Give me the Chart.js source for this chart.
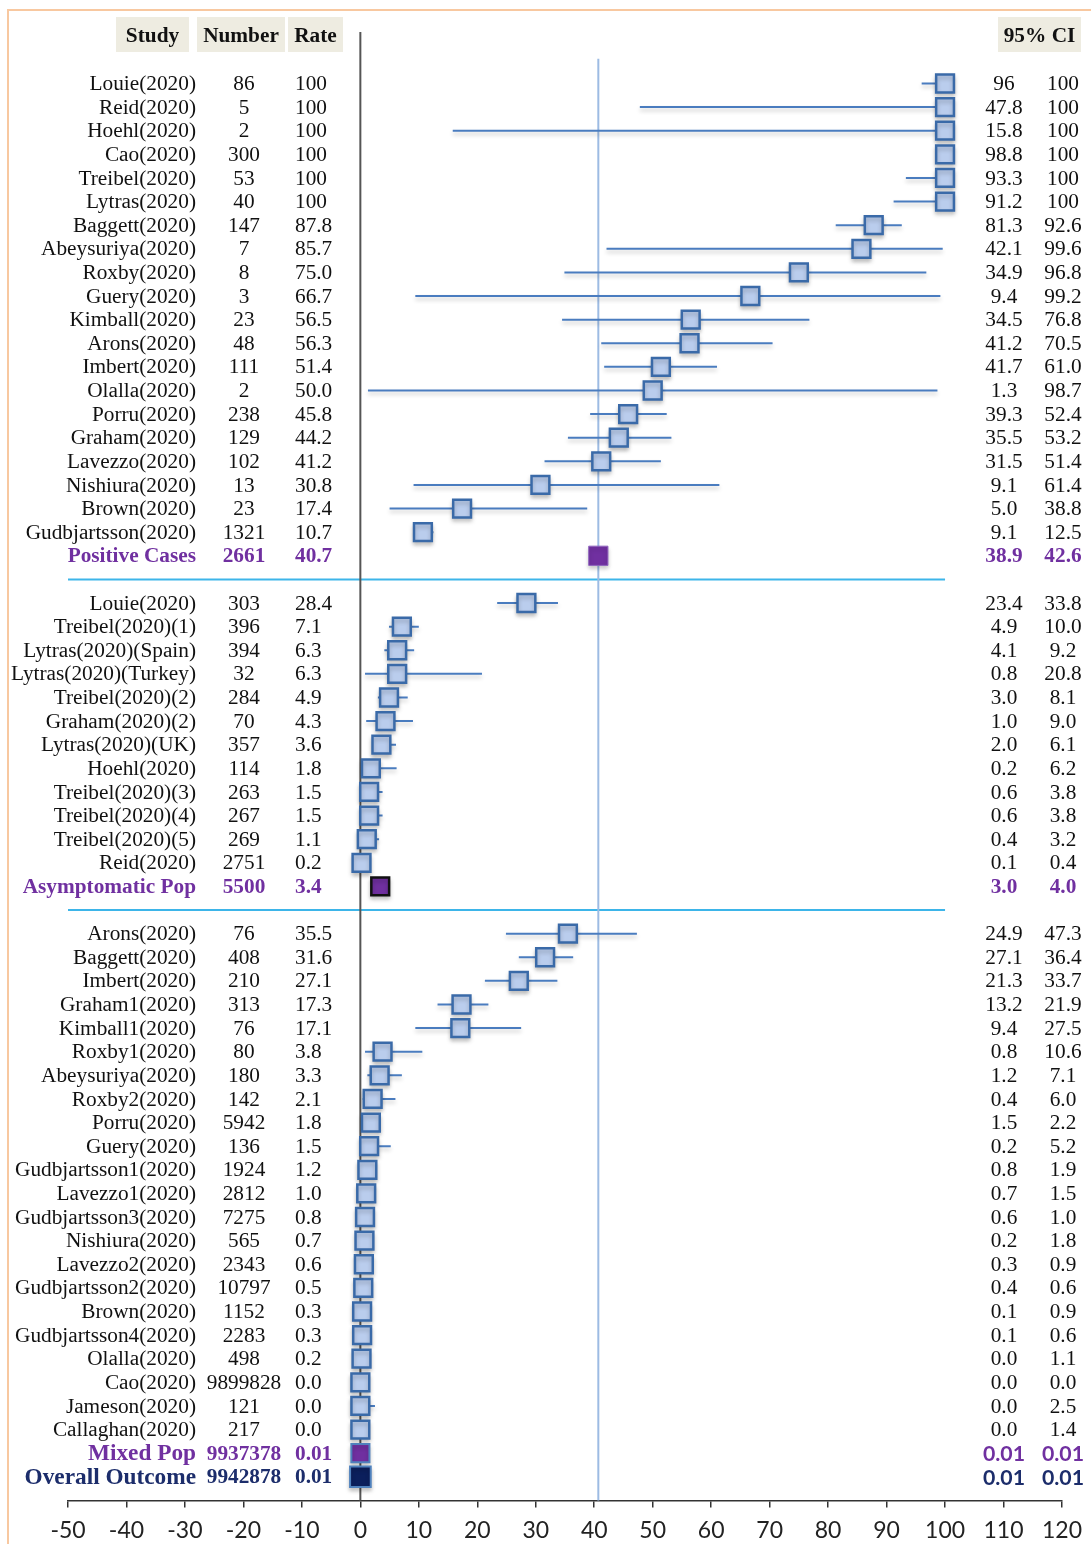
<!DOCTYPE html>
<html>
<head>
<meta charset="utf-8">
<script src="https://cdn.jsdelivr.net/npm/chart.js@4.4.1/dist/chart.umd.min.js"></script>
<style>
  html, body { margin: 0; padding: 0; background: #fff; overflow: hidden; }
  #wrap { position: relative; width: 1091px; height: 1544px; overflow: hidden; }
</style>
</head>
<body>
<div id="wrap"><canvas id="forest" width="1091" height="1553"></canvas></div>
<script>
// rows per block (studies + pooled row), a blank row sits between blocks
const groupSizes = [21, 13, 24];

const studies = [
  'Louie(2020)', 'Reid(2020)', 'Hoehl(2020)', 'Cao(2020)', 'Treibel(2020)', 'Lytras(2020)',
  'Baggett(2020)', 'Abeysuriya(2020)', 'Roxby(2020)', 'Guery(2020)', 'Kimball(2020)',
  'Arons(2020)', 'Imbert(2020)', 'Olalla(2020)', 'Porru(2020)', 'Graham(2020)',
  'Lavezzo(2020)', 'Nishiura(2020)', 'Brown(2020)', 'Gudbjartsson(2020)', 'Positive Cases',
  'Louie(2020)', 'Treibel(2020)(1)', 'Lytras(2020)(Spain)', 'Lytras(2020)(Turkey)',
  'Treibel(2020)(2)', 'Graham(2020)(2)', 'Lytras(2020)(UK)', 'Hoehl(2020)',
  'Treibel(2020)(3)', 'Treibel(2020)(4)', 'Treibel(2020)(5)', 'Reid(2020)', 'Asymptomatic Pop',
  'Arons(2020)', 'Baggett(2020)', 'Imbert(2020)', 'Graham1(2020)', 'Kimball1(2020)',
  'Roxby1(2020)', 'Abeysuriya(2020)', 'Roxby2(2020)', 'Porru(2020)', 'Guery(2020)',
  'Gudbjartsson1(2020)', 'Lavezzo1(2020)', 'Gudbjartsson3(2020)', 'Nishiura(2020)',
  'Lavezzo2(2020)', 'Gudbjartsson2(2020)', 'Brown(2020)', 'Gudbjartsson4(2020)',
  'Olalla(2020)', 'Cao(2020)', 'Jameson(2020)', 'Callaghan(2020)', 'Mixed Pop', 'Overall Outcome'
];

const counts = [
  86, 5, 2, 300, 53, 40, 147, 7, 8, 3, 23, 48, 111, 2, 238, 129, 102, 13, 23, 1321, 2661,
  303, 396, 394, 32, 284, 70, 357, 114, 263, 267, 269, 2751, 5500,
  76, 408, 210, 313, 76, 80, 180, 142, 5942, 136, 1924, 2812, 7275, 565, 2343, 10797,
  1152, 2283, 498, 9899828, 121, 217, 9937378, 9942878
];

const rates = [
  '100', '100', '100', '100', '100', '100', '87.8', '85.7', '75.0', '66.7', '56.5',
  '56.3', '51.4', '50.0', '45.8', '44.2', '41.2', '30.8', '17.4', '10.7', '40.7',
  '28.4', '7.1', '6.3', '6.3', '4.9', '4.3', '3.6', '1.8', '1.5', '1.5', '1.1', '0.2', '3.4',
  '35.5', '31.6', '27.1', '17.3', '17.1', '3.8', '3.3', '2.1', '1.8', '1.5', '1.2', '1.0',
  '0.8', '0.7', '0.6', '0.5', '0.3', '0.3', '0.2', '0.0', '0.0', '0.0', '0.01', '0.01'
];

const ciLow = [
  '96', '47.8', '15.8', '98.8', '93.3', '91.2', '81.3', '42.1', '34.9', '9.4', '34.5',
  '41.2', '41.7', '1.3', '39.3', '35.5', '31.5', '9.1', '5.0', '9.1', '38.9',
  '23.4', '4.9', '4.1', '0.8', '3.0', '1.0', '2.0', '0.2', '0.6', '0.6', '0.4', '0.1', '3.0',
  '24.9', '27.1', '21.3', '13.2', '9.4', '0.8', '1.2', '0.4', '1.5', '0.2', '0.8', '0.7',
  '0.6', '0.2', '0.3', '0.4', '0.1', '0.1', '0.0', '0.0', '0.0', '0.0', '0.01', '0.01'
];

const ciHigh = [
  '100', '100', '100', '100', '100', '100', '92.6', '99.6', '96.8', '99.2', '76.8',
  '70.5', '61.0', '98.7', '52.4', '53.2', '51.4', '61.4', '38.8', '12.5', '42.6',
  '33.8', '10.0', '9.2', '20.8', '8.1', '9.0', '6.1', '6.2', '3.8', '3.8', '3.2', '0.4', '4.0',
  '47.3', '36.4', '33.7', '21.9', '27.5', '10.6', '7.1', '6.0', '2.2', '5.2', '1.9', '1.5',
  '1.0', '1.8', '0.9', '0.6', '0.9', '0.6', '1.1', '0.0', '2.5', '1.4', '0.01', '0.01'
];

const referenceRate = 40.7;   // pooled rate of positive cases

const SERIF = '"Liberation Serif", "Times New Roman", serif';
const SANS = 'Lato, "Liberation Sans", sans-serif';
const FS = 21.3;

const summaryStyle = {
  'Positive Cases':   { color: '#7030a0', fill: '#7030a0', border: '#9065be', bw: 1,   r: 13.6, size: 21.3, ciFont: SERIF },
  'Asymptomatic Pop': { color: '#7030a0', fill: '#7030a0', border: '#111111', bw: 2.5, r: 12.6, size: 21.3, ciFont: SERIF },
  'Mixed Pop':        { color: '#7030a0', fill: '#7030a0', border: '#4f81bd', bw: 2,   r: 12.8, size: 23.3, ciFont: SANS },
  'Overall Outcome':  { color: '#1c2d6b', fill: '#0b1f5c', border: '#4f81bd', bw: 2,   r: 14.6, size: 23.3, ciFont: SANS }
};

// row position of each entry on the y scale
const rowOf = [];
let row = 0;
groupSizes.forEach(n => {
  for (let k = 0; k < n; k++) rowOf.push(row++);
  row++;
});

const boxData = studies.map((s, i) => ({ x: parseFloat(rates[i]), y: rowOf[i] }));
const boxStyle = studies.map(s => summaryStyle[s] ||
  { fill: '#bacded', border: '#3a6aa8', bw: 2.5, r: 12.6 });

const datasets = [{
  type: 'scatter',
  data: boxData,
  pointStyle: 'rect',
  pointRadius: boxStyle.map(b => b.r),
  pointBackgroundColor: boxStyle.map(b => b.fill),
  pointBorderColor: boxStyle.map(b => b.border),
  pointBorderWidth: boxStyle.map(b => b.bw),
  order: 0
}];

studies.forEach((s, i) => {
  if (summaryStyle[s]) return;
  const lo = parseFloat(ciLow[i]), hi = parseFloat(ciHigh[i]);
  if (hi <= lo) return;
  datasets.push({
    type: 'scatter',
    showLine: true,
    data: [{ x: lo, y: rowOf[i] }, { x: hi, y: rowOf[i] }],
    borderColor: '#4a7cbf',
    borderWidth: 2,
    pointRadius: 0,
    order: 1
  });
});

const forestPlugin = {
  id: 'forest',
  beforeDraw(chart) {
    const ctx = chart.ctx;
    ctx.save();
    ctx.strokeStyle = '#f8c8a0';
    ctx.lineWidth = 2;
    ctx.beginPath();
    ctx.moveTo(8, chart.height);
    ctx.lineTo(8, 10);
    ctx.lineTo(chart.width, 10);
    ctx.stroke();
    ctx.restore();
  },
  beforeDatasetsDraw(chart) {
    const ctx = chart.ctx;
    const x = chart.scales.x, y = chart.scales.y, area = chart.chartArea;
    ctx.save();
    // block separators
    ctx.strokeStyle = '#3db5e9';
    ctx.lineWidth = 2;
    let r = 0;
    groupSizes.slice(0, -1).forEach(n => {
      r += n;
      const py = y.getPixelForValue(r);
      ctx.beginPath();
      ctx.moveTo(x.getPixelForValue(-50), py);
      ctx.lineTo(x.getPixelForValue(100), py);
      ctx.stroke();
      r++;
    });
    // pooled reference line
    const rx = x.getPixelForValue(referenceRate);
    ctx.strokeStyle = '#9dbbe3';
    ctx.lineWidth = 2;
    ctx.beginPath();
    ctx.moveTo(rx, y.getPixelForValue(-1.05));
    ctx.lineTo(rx, area.bottom);
    ctx.stroke();
    // zero line
    const zx = x.getPixelForValue(0);
    ctx.strokeStyle = '#555';
    ctx.lineWidth = 2;
    ctx.beginPath();
    ctx.moveTo(zx, area.top);
    ctx.lineTo(zx, area.bottom);
    ctx.stroke();
    ctx.restore();
    // soft shadow under the marks
    ctx.save();
    ctx.shadowColor = 'rgba(0,0,0,0.22)';
    ctx.shadowBlur = 4;
    ctx.shadowOffsetY = 3;
  },
  afterDatasetsDraw(chart) {
    chart.ctx.restore();
  },
  afterDraw(chart) {
    const ctx = chart.ctx;
    const y = chart.scales.y;
    ctx.save();

    // column headers
    const headers = [['Study', 116, 189], ['Number', 197, 285], ['Rate', 288, 343], ['95% CI', 998, 1081]];
    ctx.font = 'bold ' + FS + 'px ' + SERIF;
    ctx.textAlign = 'center';
    ctx.textBaseline = 'middle';
    headers.forEach(([t, x0, x1]) => {
      ctx.fillStyle = '#eeece1';
      ctx.fillRect(x0, 17, x1 - x0, 35);
      ctx.fillStyle = '#111';
      ctx.fillText(t, (x0 + x1) / 2, 36);
    });

    studies.forEach((s, i) => {
      const py = y.getPixelForValue(rowOf[i]) + 1;
      const sum = summaryStyle[s];
      ctx.fillStyle = sum ? sum.color : '#111';
      const font = sum ? 'bold ' + sum.size + 'px ' + SERIF : FS + 'px ' + SERIF;
      const numFont = sum ? 'bold ' + FS + 'px ' + SERIF : FS + 'px ' + SERIF;
      ctx.font = font;
      ctx.textAlign = 'right';
      ctx.fillText(s, 196, py);
      ctx.font = numFont;
      ctx.textAlign = 'center';
      ctx.fillText(String(counts[i]), 244, py);
      ctx.textAlign = 'left';
      ctx.fillText(rates[i], 295, py);
      ctx.font = sum ? 'bold ' + FS + 'px ' + sum.ciFont : FS + 'px ' + SERIF;
      ctx.textAlign = 'center';
      ctx.fillText(ciLow[i], 1004, py);
      ctx.fillText(ciHigh[i], 1063, py);
    });
    ctx.restore();
  }
};

new Chart(document.getElementById('forest'), {
  data: { datasets },
  options: {
    responsive: false,
    animation: false,
    events: [],
    layout: { padding: { left: 68, right: 28, top: 32, bottom: 0 } },
    plugins: { legend: { display: false }, tooltip: { enabled: false } },
    scales: {
      x: {
        type: 'linear',
        min: -50,
        max: 120,
        ticks: { stepSize: 10, color: '#222', padding: 9, font: { family: SANS, size: 23 } },
        grid: { drawOnChartArea: false, tickLength: 7, color: '#333', lineWidth: 1.5 },
        border: { color: '#333', width: 1.5 }
      },
      y: {
        type: 'linear',
        reverse: true,
        min: -2.18,
        max: 60.0,
        display: false
      }
    }
  },
  plugins: [forestPlugin]
});
</script>
</body>
</html>
